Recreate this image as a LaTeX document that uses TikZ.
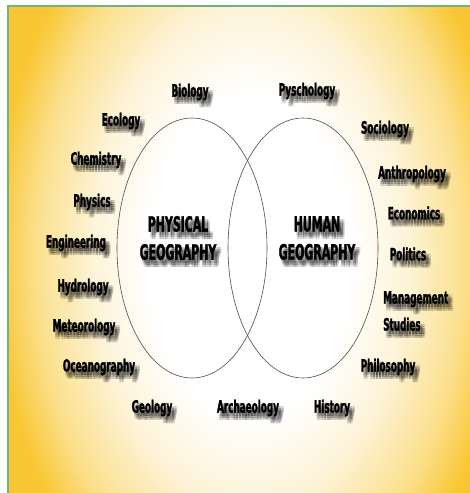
\documentclass[tikz,border=0pt]{standalone}
\usepackage{fontspec}
\usepackage{xcolor}
\setmainfont{DejaVu Sans}[FakeStretch=0.52,BoldFeatures={FakeBold=1.5}]
\usepackage{tikz}

\definecolor{glowyellow}{RGB}{249,199,52}
\definecolor{glowmid}{RGB}{251,224,140}
\definecolor{glowcream}{RGB}{253,243,215}
\definecolor{framegreen}{RGB}{112,178,128}

\pgfdeclareradialshading{glow}{\pgfpoint{0bp}{0bp}}{%
  color(0bp)=(white); color(10bp)=(white); color(15.5bp)=(glowcream);
  color(21bp)=(glowmid); color(25bp)=(glowyellow); color(50bp)=(glowyellow)}

\begin{document}
\begin{tikzpicture}[x=1pt,y=-1pt,
	lbl/.style={font=\bfseries\fontsize{17}{27}\selectfont,inner sep=0pt},
	title/.style={font=\bfseries\fontsize{21}{28}\selectfont,inner sep=0pt,align=center},
	shadow/.style={opacity=0.1},
	ring/.style={draw=black!70,line width=0.6pt}]
	\useasboundingbox (0,0) rectangle (470,493);
	\fill[white] (0,0) rectangle (470,493);
	
	% background glow
	\begin{scope}
		\clip (8,6) rectangle (470,493);
		\fill[glowyellow] (8,6) rectangle (470,493);
		\shade[shading=glow] (250,255) ellipse (255pt and 400pt);
	\end{scope}
	\draw[framegreen,line width=1.5pt] (8,493) -- (8,6) -- (470,6);
	
	% the two fields
	\draw[ring] (192,248) ellipse (75pt and 130pt);
	\draw[ring] (303,248) ellipse (75pt and 130pt);
	
	% neighbouring subjects, each with a soft shadow
	\foreach \n/\x/\y/\t in {bio/190/92/Biology, psy/307/91/Pyschology,
		eco/121/121/Ecology, chem/96/160/Chemistry, phy/92/202/Physics,
		eng/76/243/Engineering, hyd/83/287/Hydrology, met/84/327/Meteorology,
		oce/99/367/Oceanography, geo/152/408/Geology, arch/248/408/Archaeology,
		hist/332/408/History, soc/385/129/Sociology, anth/412/174/Anthropology,
		econ/414/213/Economics, pol/408/254/Politics, phil/388/367/Philosophy}{
		\foreach \i in {1,2,3}
			\foreach \j in {1,2,3}
				\node[lbl,shadow] (\n-s\i\j) at (\x+0.5+1.5*\i,\y+1+2*\j) {\t};
		\node[lbl] (\n) at (\x,\y) {\t};
	}
	\foreach \i in {1,2,3}
		\foreach \j in {1,2,3}
			\node[lbl,align=left,anchor=west,shadow] (man-s\i\j) at (383.5+1.5*\i,312+2*\j) {Management\\Studies};
	\node[lbl,align=left,anchor=west] (man) at (383,311) {Management\\Studies};
	
	% field names
	\foreach \n/\x/\y/\t in {physical/178/238/{PHYSICAL\\GEOGRAPHY}, human/317/238/{HUMAN\\GEOGRAPHY}}{
		\foreach \i in {1,2,3}
			\foreach \j in {1,2,3}
				\node[title,shadow] (\n-s\i\j) at (\x+0.5+1.5*\i,\y+1+2*\j) {\t};
		\node[title] (\n) at (\x,\y) {\t};
	}
\end{tikzpicture}
\end{document}
